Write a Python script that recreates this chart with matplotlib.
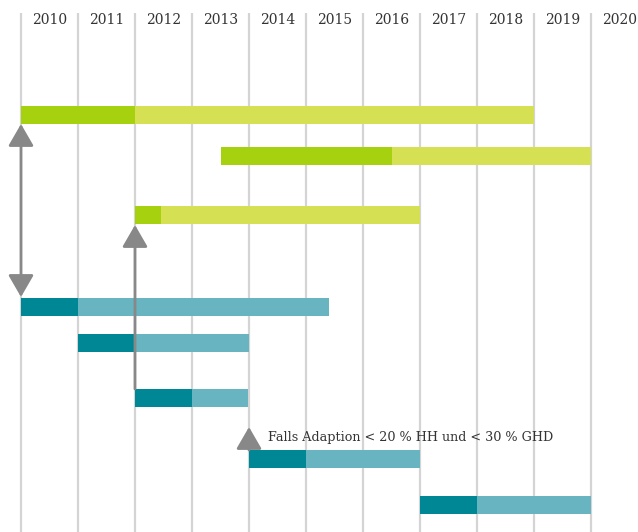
import matplotlib
matplotlib.use("Agg")
import matplotlib.pyplot as plt

years = [2010, 2011, 2012, 2013, 2014, 2015, 2016, 2017, 2018, 2019, 2020]
# each bar: start, split (dark->light), end, group
starts = [2010, 2013.5, 2012, 2010, 2011, 2012, 2014, 2017]
splits = [2012, 2016.5, 2012.45, 2011, 2012, 2013, 2015, 2018]
ends = [2019, 2020, 2017, 2015.4, 2014, 2013.98, 2017, 2020]
groups = ["green", "green", "green", "teal", "teal", "teal", "teal", "teal"]
row_y = [115, 156, 215, 307, 343, 398, 459, 505]
note = "Falls Adaption < 20 % HH und < 30 % GHD"

colors = {"green": ("#A6D10F", "#D5E052"), "teal": ("#008796", "#68B4C0")}

W, H = 638, 532
fig = plt.figure(figsize=(W / 100, H / 100), dpi=100)
ax = fig.add_axes([0, 0, 1, 1])
px = 57.0
x0 = 2010 - 21 / px
ax.set_xlim(x0, x0 + W / px)
ax.set_ylim(H, 0)
ax.axis("off")

for yr in years:
    ax.plot([yr, yr], [13, H], color="#D4D4D4", lw=1.6, zorder=1, solid_capstyle="butt")
    ax.text(yr + 0.5, 20, str(yr), ha="center", va="center", fontsize=10,
            family="DejaVu Serif", color="#333333", zorder=3)

bh = 18
for s, m, e, g, y in zip(starts, splits, ends, groups, row_y):
    dark, light = colors[g]
    ax.barh(y, m - s, left=s, height=bh, color=dark, zorder=2)
    ax.barh(y, e - m, left=m, height=bh, color=light, zorder=2)

arrow_kw = dict(arrowstyle="-|>,head_length=1.35,head_width=0.78", mutation_scale=10,
                lw=2, color="#888888", shrinkA=0, shrinkB=0)
dbl_kw = dict(arrow_kw, arrowstyle="<|-|>,head_length=1.35,head_width=0.78")
ax.annotate("", xy=(2010, 124), xytext=(2010, 297), arrowprops=dbl_kw, zorder=4)
ax.annotate("", xy=(2012, 225), xytext=(2012, 389), arrowprops=arrow_kw, zorder=4)
ax.annotate("", xy=(2014, 427), xytext=(2014, 450), arrowprops=arrow_kw, zorder=4)
ax.text(2014 + 19 / px, 437, note, ha="left", va="center", fontsize=9.2,
        family="DejaVu Serif", color="#333333", zorder=3)

fig.savefig("out.png", dpi=100)
